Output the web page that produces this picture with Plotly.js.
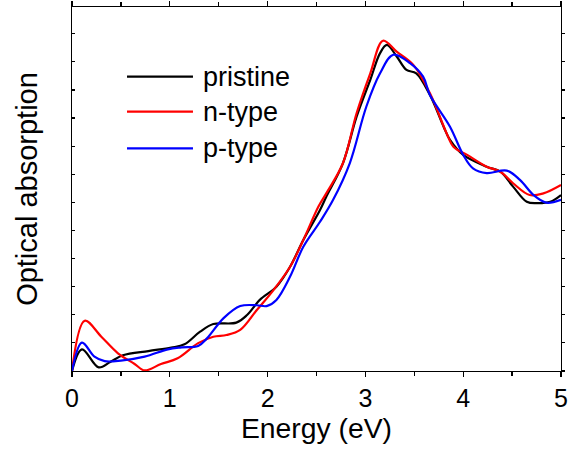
<!DOCTYPE html>
<html>
<head>
<meta charset="utf-8">
<script src="https://cdn.plot.ly/plotly-3.0.1.min.js"></script>
<style>html,body{margin:0;padding:0;background:#fff;}#chart{width:571px;height:451px;}</style>
</head>
<body>
<div id="chart"></div>
<script>
// Energy (eV) and optical absorption (arb. units)
const pristineE = [0, 0.102, 0.273, 0.39, 0.52, 0.78, 1.015, 1.15, 1.31, 1.445, 1.68, 1.79, 1.92, 2.09, 2.23, 2.365, 2.536, 2.60, 2.77, 2.91, 3.05, 3.15, 3.22, 3.32, 3.42, 3.52, 3.66, 3.80, 3.865, 4.00, 4.24, 4.38, 4.51, 4.65, 4.75, 4.89, 5.0];
const pristineA = [0, 0.77, 0.13, 0.32, 0.56, 0.71, 0.83, 0.95, 1.40, 1.67, 1.72, 1.99, 2.53, 3.00, 3.71, 4.66, 5.73, 6.20, 7.39, 9.05, 10.36, 11.31, 11.60, 11.19, 10.71, 10.59, 9.82, 8.69, 8.22, 7.69, 7.27, 7.09, 6.56, 6.02, 5.97, 6.02, 6.26];

const ntypeE = [0, 0.13, 0.30, 0.47, 0.64, 0.743, 0.91, 1.08, 1.29, 1.445, 1.58, 1.72, 1.89, 2.06, 2.23, 2.365, 2.52, 2.60, 2.77, 2.91, 3.05, 3.18, 3.32, 3.49, 3.66, 3.83, 3.90, 4.04, 4.24, 4.38, 4.51, 4.68, 4.82, 5.0];
const ntypeA = [0, 1.79, 1.22, 0.63, 0.25, 0.02, 0.25, 0.45, 0.99, 1.22, 1.28, 1.46, 2.17, 2.88, 3.71, 4.66, 5.85, 6.32, 7.39, 9.17, 10.59, 11.75, 11.36, 10.89, 9.88, 8.46, 7.98, 7.69, 7.27, 7.09, 6.68, 6.26, 6.32, 6.62];

const ptypeE = [0, 0.102, 0.23, 0.334, 0.50, 0.743, 0.98, 1.12, 1.29, 1.38, 1.55, 1.72, 1.89, 1.99, 2.09, 2.23, 2.365, 2.536, 2.67, 2.84, 3.01, 3.15, 3.285, 3.456, 3.59, 3.66, 3.865, 4.00, 4.10, 4.24, 4.445, 4.58, 4.72, 4.85, 5.0];
const ptypeA = [0, 1.01, 0.51, 0.35, 0.37, 0.51, 0.77, 0.84, 0.89, 1.16, 1.88, 2.31, 2.34, 2.31, 2.53, 3.36, 4.42, 5.31, 6.09, 7.39, 9.41, 10.59, 11.25, 10.95, 10.47, 9.82, 8.69, 7.69, 7.21, 7.04, 7.13, 6.80, 6.26, 5.99, 6.09];

const seriesNames = ['pristine', 'n-type', 'p-type'];
const seriesColors = ['#000000', '#ff0000', '#0000ff'];
const xTickVals = [0, 1, 2, 3, 4, 5];

const FONT = 'Liberation Sans, Arial, sans-serif';
const xs = [pristineE, ntypeE, ptypeE];
const ys = [pristineA, ntypeA, ptypeA];

const traces = xs.map((x, i) => ({
  x: x, y: ys[i], type: 'scatter', mode: 'lines', name: seriesNames[i],
  line: {color: seriesColors[i], width: 2.2, shape: 'spline', smoothing: 1, simplify: false},
  showlegend: false, hoverinfo: 'skip'
}));
// invisible trace to activate the right-side mirror axis
traces.push({x: [0], y: [0], yaxis: 'y2', mode: 'markers', marker: {opacity: 0}, showlegend: false, hoverinfo: 'skip'});

// custom legend (long line samples like the reference)
const legY = [0.8085, 0.7124, 0.6118];
const shapes = seriesNames.map((n, i) => ({
  type: 'line', xref: 'paper', yref: 'paper', x0: 0.1125, x1: 0.2474, y0: legY[i], y1: legY[i],
  line: {color: seriesColors[i], width: 2.2}
}));
const annotations = seriesNames.map((n, i) => ({
  text: n, xref: 'paper', yref: 'paper', x: 0.2638, y: legY[i], xanchor: 'left', yanchor: 'middle',
  showarrow: false, font: {family: FONT, size: 27, color: '#000'}
}));

const yr = [0, 12.95];
const layout = {
  width: 571, height: 451,
  margin: {l: 72, r: 10, t: 7, b: 80},
  paper_bgcolor: '#fff', plot_bgcolor: '#fff',
  font: {family: FONT, color: '#000'},
  xaxis: {
    range: [0, 5], tickvals: xTickVals, ticktext: xTickVals.map(String),
    ticks: 'outside', ticklen: 5, tickwidth: 1.3, tickcolor: '#000',
    minor: {dtick: 0.5, ticks: 'outside', ticklen: 4, tickwidth: 1.3, tickcolor: '#000'},
    showline: true, linewidth: 1.3, linecolor: '#000', mirror: 'ticks',
    showgrid: false, zeroline: false,
    tickfont: {family: FONT, size: 25, color: '#000'},
    title: {text: 'Energy (eV)', font: {family: FONT, size: 28.3, color: '#000'}, standoff: 1}
  },
  yaxis: {
    range: yr, dtick: 1, tick0: 0, showticklabels: false,
    ticks: 'inside', ticklen: 3, tickwidth: 1.2, tickcolor: '#000',
    showline: true, linewidth: 1.3, linecolor: '#000',
    showgrid: false, zeroline: false,
    title: {text: 'Optical absorption', font: {family: FONT, size: 29, color: '#000'}, standoff: 24}
  },
  yaxis2: {
    overlaying: 'y', side: 'right', range: yr, dtick: 1, tick0: 0, showticklabels: false,
    ticks: 'outside', ticklen: 3, tickwidth: 1.2, tickcolor: '#000',
    showline: true, linewidth: 1.3, linecolor: '#000',
    showgrid: false, zeroline: false
  },
  shapes: shapes,
  annotations: annotations,
  showlegend: false
};

Plotly.newPlot('chart', traces, layout, {staticPlot: true, displayModeBar: false});
</script>
</body>
</html>
